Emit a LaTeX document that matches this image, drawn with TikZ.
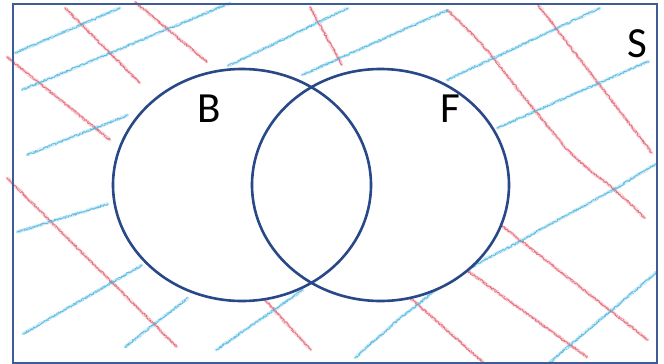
\documentclass[tikz,border=0pt]{standalone}
\usepackage{fontspec}
\setmainfont{Carlito}
\usetikzlibrary{decorations.pathmorphing}
\definecolor{framec}{RGB}{62,92,150}
\definecolor{circc}{RGB}{40,72,135}
\definecolor{redc}{RGB}{226,90,106}
\definecolor{bluec}{RGB}{70,178,222}
\tikzset{
  crayonhaze/.style={line width=3.4pt, line cap=round, line join=round, opacity=0.22,
    decorate, decoration={random steps, segment length=2pt, amplitude=0.6pt}},
  crayongrain/.style={line width=0.9pt, line cap=round, line join=round, opacity=0.75,
    dash pattern=on 1.6pt off 0.9pt,
    decorate, decoration={random steps, segment length=1.3pt, amplitude=1.1pt}},
  crayongrainb/.style={line width=0.8pt, line cap=round, line join=round, opacity=0.6,
    dash pattern=on 1pt off 1.4pt,
    decorate, decoration={random steps, segment length=1.1pt, amplitude=1.3pt}},
  rstroke/.style={draw=redc},
  bstroke/.style={draw=bluec},
  setline/.style={draw=circc, line width=2.6pt},
  framebox/.style={draw=framec, line width=2.6pt},
  setlabel/.style={font=\fontsize{43}{43}\selectfont, text=black, inner sep=0pt, anchor=center}
}
\begin{document}
\begin{tikzpicture}[x=1pt,y=-1pt]
\pgfmathsetseed{7}
\useasboundingbox (0,0) rectangle (664,364);
% red strokes (down-right)
\foreach \s in {crayonhaze,crayongrain,crayongrainb}{
  \foreach \xa/\ya/\xb/\yb in {65/8/140/83, 135/2/207/62, 7/57/110/140, 310/7/342/65, 538/5/652/153,
    502/226/648/340, 465/269/587/357, 407/295/484/363, 7/178/177/347, 265/300/311/350}{
    \draw[rstroke,\s] (\xa,\ya) -- (\xb,\yb);
  }
  \draw[rstroke,\s] (447,10) -- (465,27) -- (480,42) -- (495,60) -- (510,79) -- (523,96) -- (536,112) -- (550,129) -- (564,146) -- (578,160) -- (593,173) -- (608,184) -- (625,199) -- (645,218);
}
% blue strokes (up-right)
\foreach \s in {crayonhaze,crayongrain,crayongrainb}{
  \foreach \xa/\ya/\xb/\yb in {15/53/120/8, 22/90/230/3, 27/155/128/115, 228/66/348/8, 302/75/448/10,
    447/80/600/8, 497/128/649/61, 550/362/657/272, 17/232/108/204, 23/334/142/265,
    125/347/188/298, 216/350/303/290}{
    \draw[bstroke,\s] (\xa,\ya) -- (\xb,\yb);
  }
  \draw[bstroke,\s] (355,358) -- (370,344) -- (386,331) -- (400,318) -- (417,305) -- (433,292) -- (450,280) -- (467,270) -- (484,260) -- (502,251) -- (519,242) -- (543,228) -- (567,215) -- (591,202) -- (615,189) -- (636,176) -- (656,164);
}
% sets
\coordinate (cb) at (242,185);
\coordinate (cf) at (380.5,185);
\fill[white] (cb) ellipse [x radius=129, y radius=116];
\fill[white] (cf) ellipse [x radius=128.5, y radius=116];
\draw[setline] (cb) ellipse [x radius=129, y radius=116];
\draw[setline] (cf) ellipse [x radius=128.5, y radius=116];
% universe frame
\draw[framebox] (13,4) rectangle (657,363.5);
% labels
\node[setlabel] (B) at (209,109) {B};
\node[setlabel] (F) at (450,109) {F};
\node[setlabel] (S) at (637,44) {S};
\end{tikzpicture}
\end{document}
